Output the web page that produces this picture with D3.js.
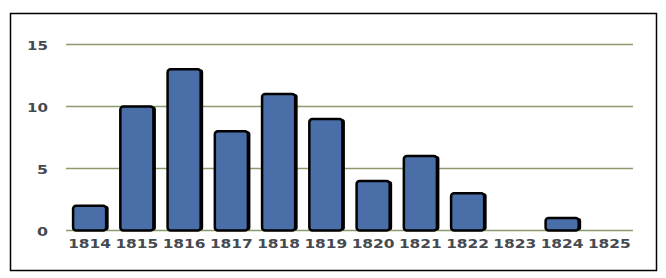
<html>
<head>
<meta charset="UTF-8">
<script src="https://d3js.org/d3.v7.min.js"></script>
<style>
  body { margin: 0; background: #fff; }
  .tick text { fill: #464a50; font-family: "DejaVu Sans", sans-serif; font-weight: bold; font-size: 13px; }
</style>
</head>
<body>
<svg width="666" height="278"></svg>
<script>
var years = ["1814", "1815", "1816", "1817", "1818", "1819", "1820", "1821", "1822", "1823", "1824", "1825"];
var counts = [2, 10, 13, 8, 11, 9, 4, 6, 3, 0, 1, 0];
var yTicks = [0, 5, 10, 15];

var svg = d3.select("svg");

// outer frame
svg.append("rect")
    .attr("x", 10.5).attr("y", 13.5)
    .attr("width", 646).attr("height", 257)
    .attr("fill", "none").attr("stroke", "#000").attr("stroke-width", 1.5);

var x = d3.scaleBand().domain(years).range([66, 633]).paddingInner(0.3).paddingOuter(0.15);
var y = d3.scaleLinear().domain([0, 15]).range([230.5, 44.5]);

// gridlines
svg.append("g")
    .selectAll("line")
    .data(yTicks)
    .enter()
    .append("line")
    .attr("x1", 66).attr("x2", 633)
    .attr("y1", d => y(d)).attr("y2", d => y(d))
    .attr("stroke", "#8c9a6c").attr("stroke-width", 1.5);

// y labels
var yAxis = d3.axisLeft(y).tickValues(yTicks).tickSize(0).tickPadding(0);
svg.append("g")
    .attr("transform", "translate(48,0)")
    .call(yAxis)
    .call(g => g.select(".domain").remove())
    .selectAll("text")
    .attr("dy", "0.36em")
    .attr("textLength", d => d >= 10 ? 21 : 11)
    .attr("lengthAdjust", "spacingAndGlyphs");

// x labels
var xAxis = d3.axisBottom(x).tickSize(0).tickPadding(0);
svg.append("g")
    .attr("transform", "translate(0,240)")
    .call(xAxis)
    .call(g => g.select(".domain").remove())
    .selectAll("text")
    .attr("dy", "0.6em")
    .attr("textLength", 43)
    .attr("lengthAdjust", "spacingAndGlyphs");

var bars = svg.append("g")
    .selectAll("g")
    .data(years.map((d, i) => ({ year: d, v: counts[i] })).filter(d => d.v > 0))
    .enter()
    .append("g");

// shadow
bars.append("rect")
    .attr("x", d => x(d.year) + 2.5)
    .attr("y", d => y(d.v))
    .attr("width", x.bandwidth())
    .attr("height", d => y(0) - y(d.v))
    .attr("rx", 3)
    .attr("fill", "#000");

bars.append("rect")
    .attr("x", d => x(d.year))
    .attr("y", d => y(d.v))
    .attr("width", x.bandwidth())
    .attr("height", d => y(0) - y(d.v))
    .attr("rx", 3)
    .attr("fill", "#4a6ea8")
    .attr("stroke", "#000")
    .attr("stroke-width", 2.5);
</script>
</body>
</html>
